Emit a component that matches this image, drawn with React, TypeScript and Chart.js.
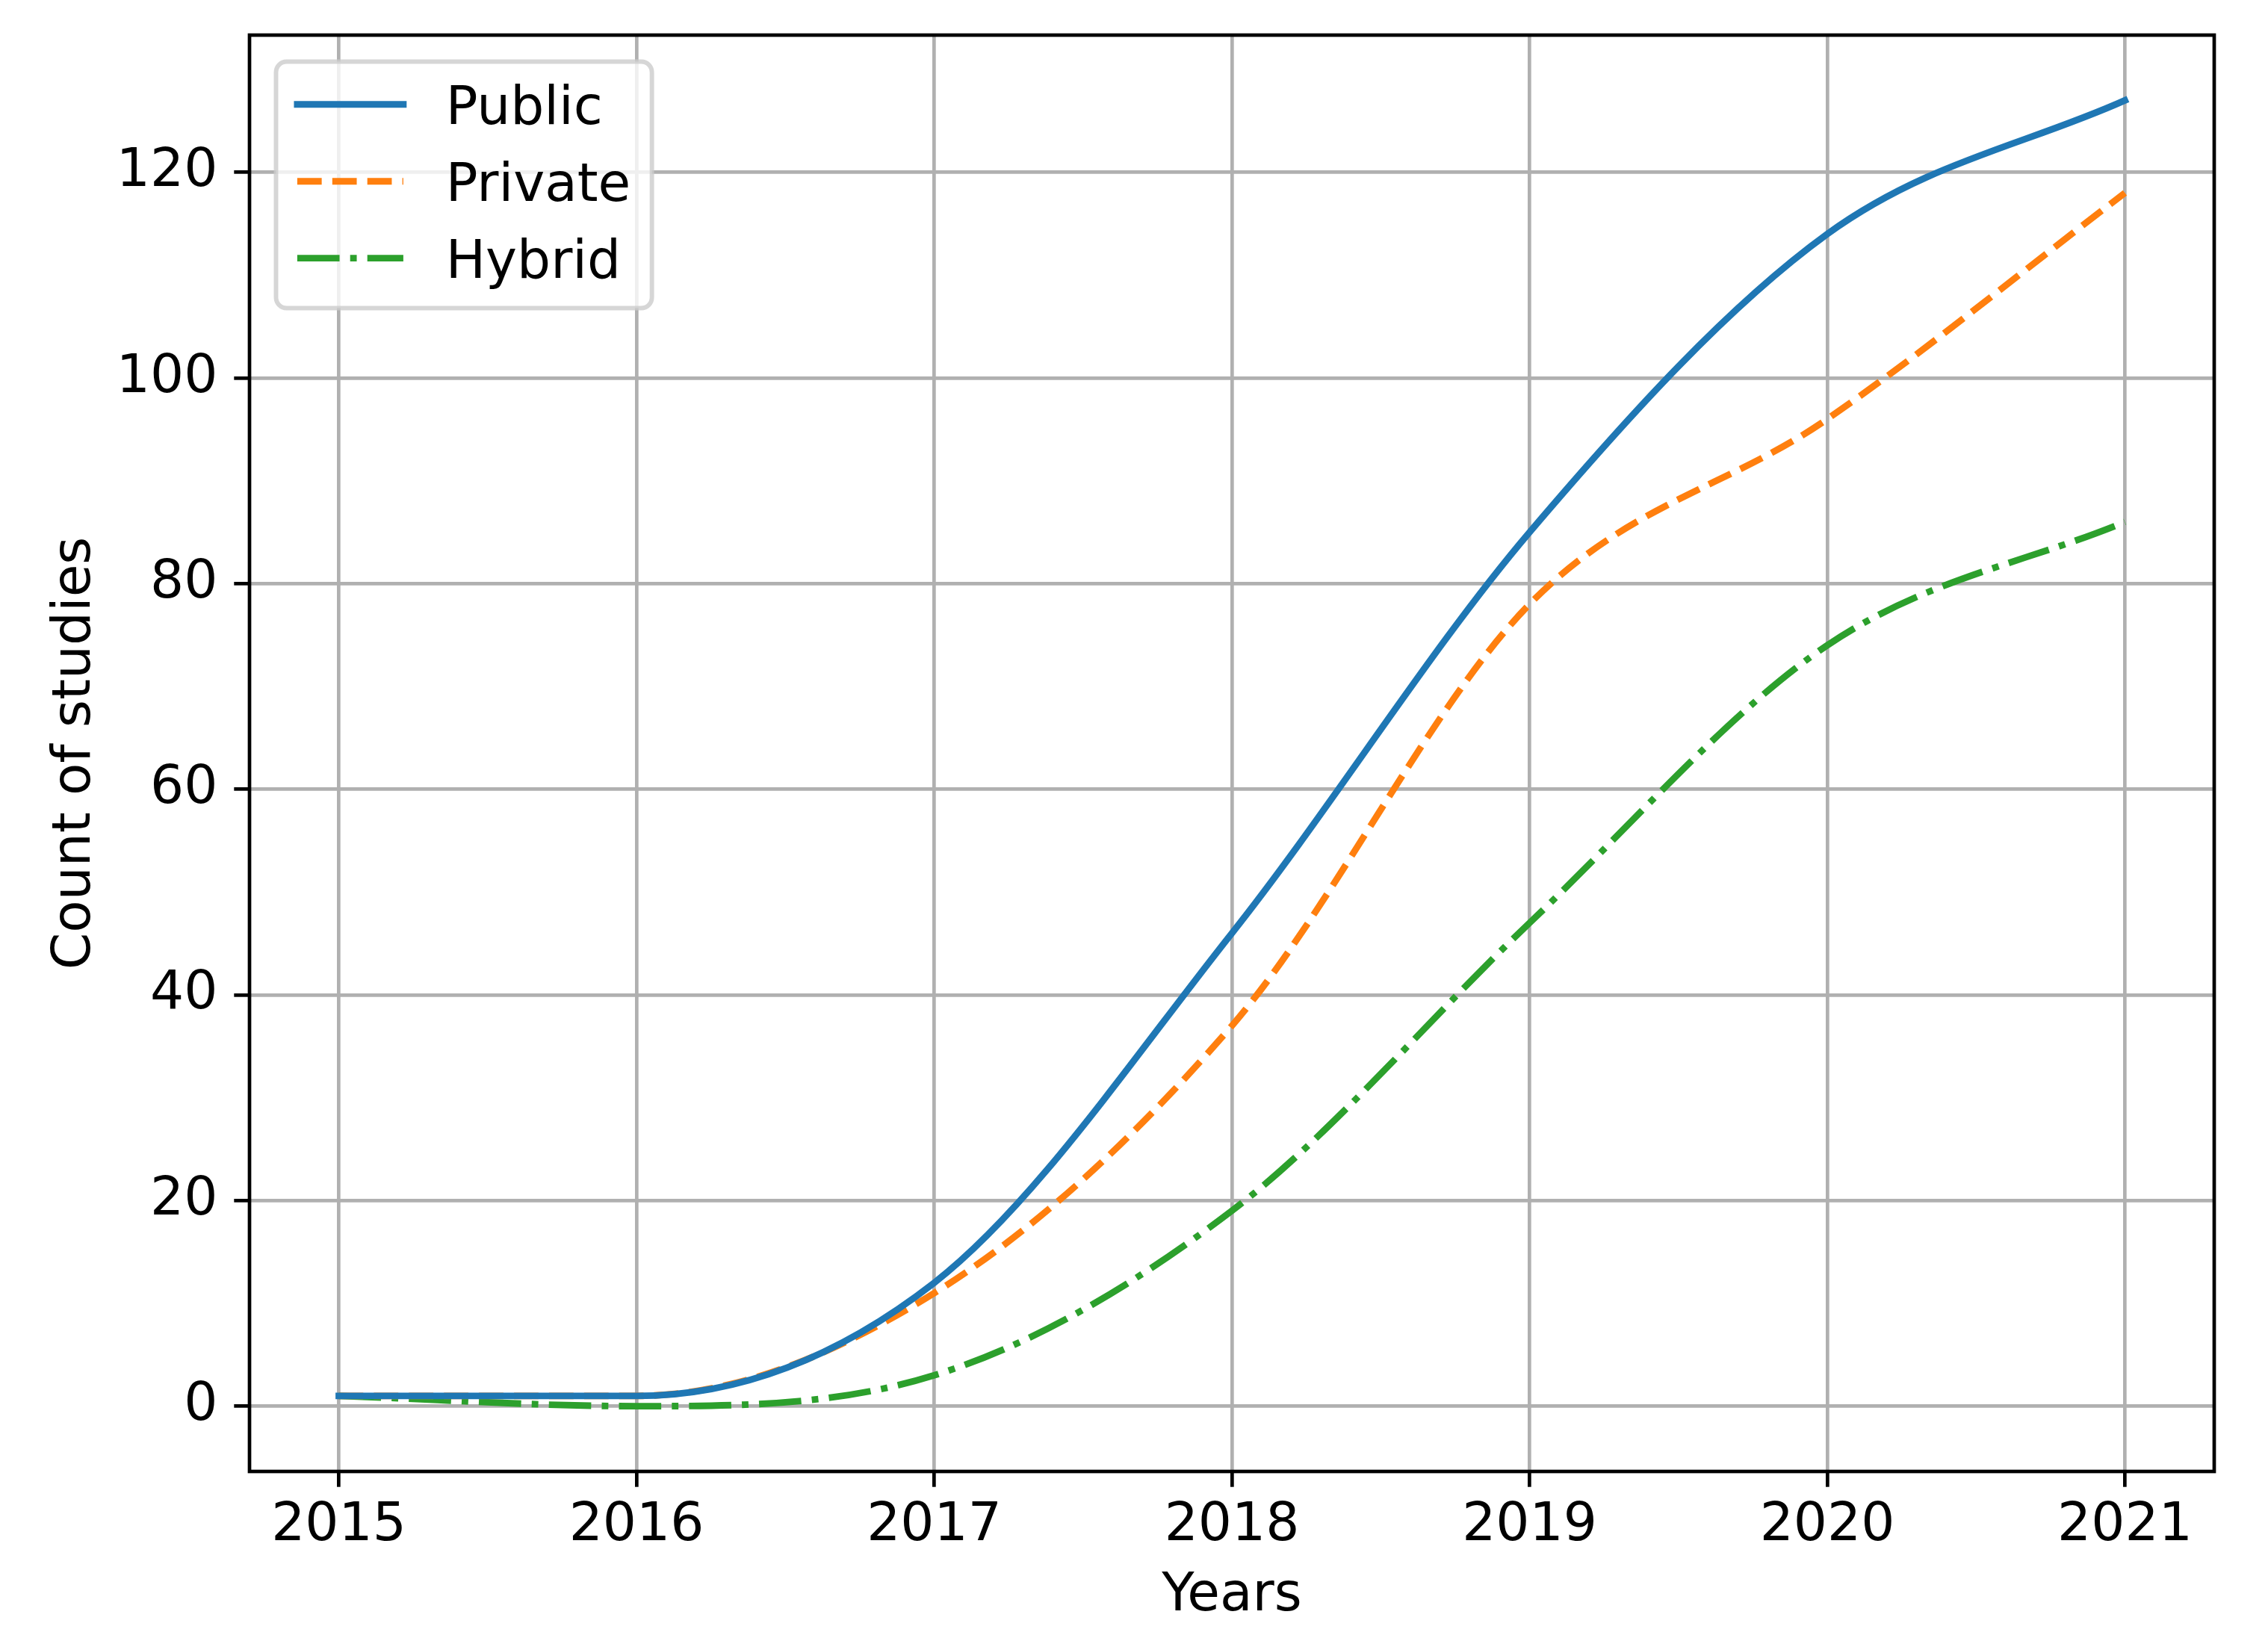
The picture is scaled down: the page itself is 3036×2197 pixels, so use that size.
import React, { useEffect, useRef } from "react";
import { Chart, registerables } from "chart.js";

Chart.register(...registerables);

// ---- data ----
const years = [2015, 2016, 2017, 2018, 2019, 2020, 2021];
const publicCounts = [1, 1, 12, 46, 85, 114, 127];
const privateCounts = [1, 1, 11, 37, 78, 96, 118];
const hybridCounts = [1, 0, 3, 19, 47, 74, 86];
const seriesLabels = ["Public", "Private", "Hybrid"];
const xTickValues = [2015, 2016, 2017, 2018, 2019, 2020, 2021];
const yTickValues = [0, 20, 40, 60, 80, 100, 120];
const xTitle = "Years";
const yTitle = "Count of studies";

// ---- style ----
const W = 3036;
const H = 2197;
const FS = 71;
const FAMILY = "DejaVu Sans";
const LW = 8.85;
const THIN = 4.7;
const TICK_LEN = 20.7;
const AREA = { left: 334, top: 47, right: 2964, bottom: 1970 };

const framePlugin = {
  id: "mplFrame",
  afterDatasetsDraw(chart: any) {
    const { ctx, chartArea: a } = chart;
    ctx.save();
    ctx.strokeStyle = "#000";
    ctx.lineWidth = THIN;
    ctx.lineJoin = "miter";
    ctx.strokeRect(a.left, a.top, a.right - a.left, a.bottom - a.top);
    ctx.restore();
  },
};

const legendPlugin = {
  id: "mplLegend",
  afterDraw(chart: any) {
    const { ctx, chartArea: a } = chart;
    const ds = chart.data.datasets;
    ctx.save();
    ctx.font = `${FS}px "${FAMILY}"`;
    const textW = Math.max(...ds.map((d: any) => ctx.measureText(d.label).width));
    const x0 = a.left + 0.5 * FS;
    const y0 = a.top + 0.5 * FS;
    const w = 0.4 * FS + 2 * FS + 0.8 * FS + textW + 0.4 * FS;
    const h = 4.648 * FS;
    ctx.beginPath();
    ctx.roundRect(x0, y0, w, h, 0.2 * FS);
    ctx.fillStyle = "rgba(255,255,255,0.8)";
    ctx.fill();
    ctx.lineWidth = 5.9;
    ctx.strokeStyle = "rgba(204,204,204,0.8)";
    ctx.stroke();
    ds.forEach((d: any, i: number) => {
      const ly = y0 + 0.807 * FS + i * 1.45 * FS;
      const by = y0 + 1.179 * FS + i * 1.45 * FS;
      const hx0 = x0 + 0.4 * FS;
      const hx1 = hx0 + 2 * FS;
      ctx.beginPath();
      ctx.setLineDash(d.borderDash || []);
      ctx.lineDashOffset = 0;
      ctx.lineCap = d.borderCapStyle || "butt";
      ctx.lineWidth = d.borderWidth;
      ctx.strokeStyle = d.borderColor;
      ctx.moveTo(hx0, ly);
      ctx.lineTo(hx1, ly);
      ctx.stroke();
      ctx.setLineDash([]);
      ctx.fillStyle = "#000";
      ctx.textBaseline = "alphabetic";
      ctx.textAlign = "left";
      ctx.fillText(d.label, hx1 + 0.8 * FS, by);
    });
    ctx.restore();
  },
};

export default function App() {
  const canvasRef = useRef<HTMLCanvasElement | null>(null);

  useEffect(() => {
    if (!canvasRef.current) return;
    const allVals = [...publicCounts, ...privateCounts, ...hybridCounts];
    const yLo = Math.min(...allVals);
    const yHi = Math.max(...allVals);
    const yPad = 0.05 * (yHi - yLo);
    const xLo = years[0];
    const xHi = years[years.length - 1];
    const xPad = 0.05 * (xHi - xLo);

    const toPts = (vals: number[]) => years.map((x, i) => ({ x, y: vals[i] }));
    const font = { family: FAMILY, size: FS };

    const chart = new Chart(canvasRef.current, {
      type: "line",
      data: {
        datasets: [
          {
            label: seriesLabels[0],
            data: toPts(publicCounts),
            borderColor: "#1f77b4",
            borderWidth: LW,
            borderCapStyle: "square",
            borderJoinStyle: "round",
            cubicInterpolationMode: "monotone",
            pointRadius: 0,
            fill: false,
          },
          {
            label: seriesLabels[1],
            data: toPts(privateCounts),
            borderColor: "#ff7f0e",
            borderWidth: LW,
            borderDash: [3.7 * LW, 1.6 * LW],
            borderCapStyle: "butt",
            borderJoinStyle: "round",
            cubicInterpolationMode: "monotone",
            pointRadius: 0,
            fill: false,
          },
          {
            label: seriesLabels[2],
            data: toPts(hybridCounts),
            borderColor: "#2ca02c",
            borderWidth: LW,
            borderDash: [6.4 * LW, 1.6 * LW, 1 * LW, 1.6 * LW],
            borderCapStyle: "butt",
            borderJoinStyle: "round",
            cubicInterpolationMode: "monotone",
            pointRadius: 0,
            fill: false,
          },
        ],
      } as any,
      options: {
        animation: false,
        responsive: false,
        devicePixelRatio: 1,
        layout: {
          padding: { left: 0, top: AREA.top, right: W - AREA.right, bottom: 0 },
        },
        plugins: {
          legend: { display: false },
          tooltip: { enabled: false },
        },
        scales: {
          x: {
            type: "linear",
            min: xLo - xPad,
            max: xHi + xPad,
            afterBuildTicks: (s: any) => {
              s.ticks = xTickValues.map((v) => ({ value: v }));
            },
            afterFit: (s: any) => {
              s.height = H - AREA.bottom;
              s.paddingLeft = 0;
              s.paddingRight = 0;
            },
            border: { display: false },
            grid: {
              color: "#b0b0b0",
              lineWidth: THIN,
              drawTicks: true,
              tickLength: TICK_LEN,
              tickColor: "#000",
              tickWidth: THIN,
            },
            ticks: {
              font,
              color: "#000",
              padding: 10,
              maxRotation: 0,
              autoSkip: false,
              callback: (v: any) => String(v),
            },
            title: {
              display: true,
              text: xTitle,
              font,
              color: "#000",
              padding: { top: 0, bottom: 17 },
            },
          },
          y: {
            type: "linear",
            min: yLo - yPad,
            max: yHi + yPad,
            afterBuildTicks: (s: any) => {
              s.ticks = yTickValues.map((v) => ({ value: v }));
            },
            afterFit: (s: any) => {
              s.width = AREA.left;
              s.paddingTop = 0;
              s.paddingBottom = 0;
            },
            border: { display: false },
            grid: {
              color: "#b0b0b0",
              lineWidth: THIN,
              drawTicks: true,
              tickLength: TICK_LEN,
              tickColor: "#000",
              tickWidth: THIN,
            },
            ticks: {
              font,
              color: "#000",
              padding: 22,
              autoSkip: false,
              callback: (v: any) => String(v),
            },
            title: {
              display: true,
              text: yTitle,
              font,
              color: "#000",
              padding: { top: 59, bottom: 0 },
            },
          },
        },
      } as any,
      plugins: [framePlugin, legendPlugin],
    });
    return () => chart.destroy();
  }, []);

  return (
    <div style={{ position: "absolute", left: 0, top: 0, width: W, height: H, background: "#fff" }}>
      <canvas ref={canvasRef} width={W} height={H} style={{ display: "block", width: W, height: H }} />
    </div>
  );
}
